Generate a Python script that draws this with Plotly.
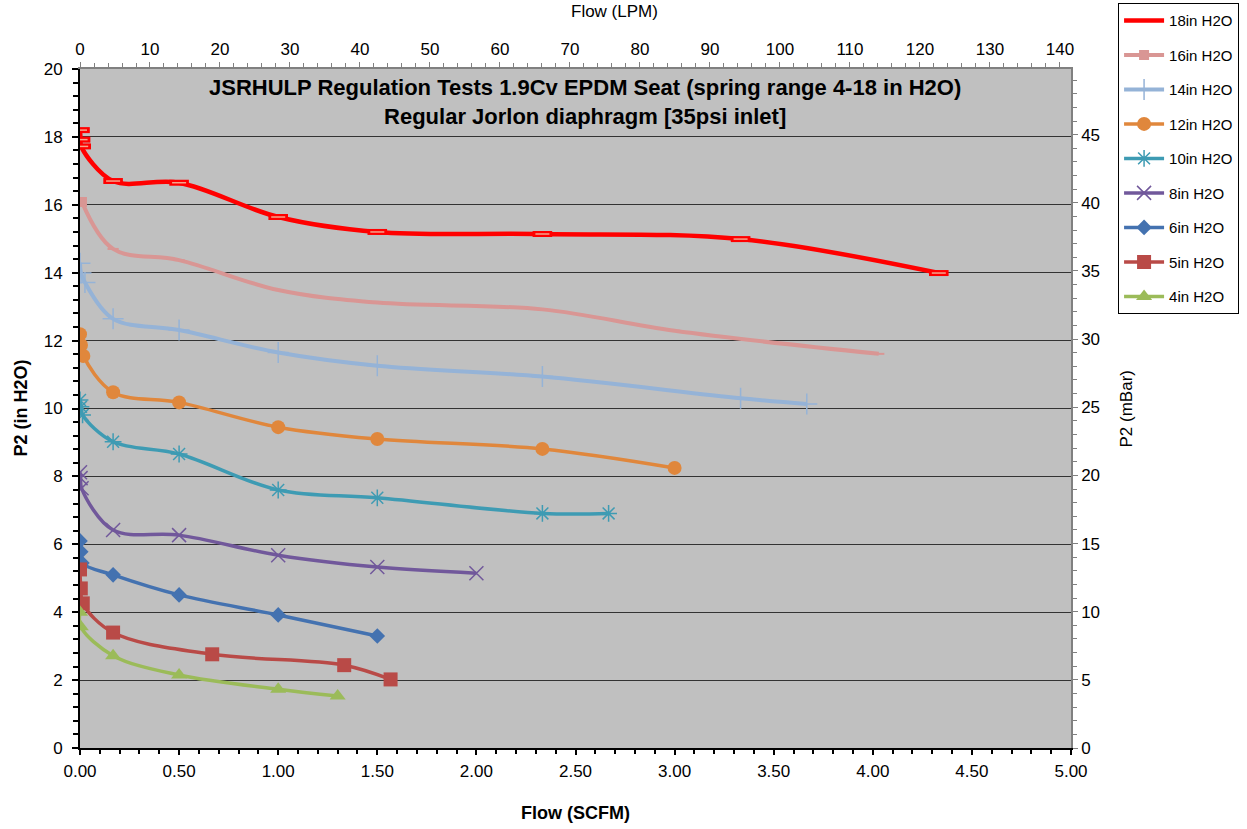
import plotly.graph_objects as go

# ---- data (x in SCFM, y in inches H2O) ----
x18 = [0.0, 0.003, 0.006, 0.167, 0.5, 1.0, 1.5, 2.333, 3.333, 4.333]
y18 = [18.2, 17.92, 17.72, 16.70, 16.65, 15.64, 15.20, 15.14, 14.99, 13.99]

x16 = [0.01, 0.167, 0.5, 1.0, 1.5, 2.333, 3.0, 4.03]
y16 = [16.08, 14.70, 14.37, 13.49, 13.12, 12.92, 12.29, 11.61]

x14 = [0.0, 0.005, 0.025, 0.167, 0.5, 1.0, 1.5, 2.333, 3.333, 3.667]
y14 = [14.28, 13.99, 13.71, 12.64, 12.31, 11.65, 11.26, 10.94, 10.30, 10.13]

x12 = [0.0, 0.005, 0.017, 0.167, 0.5, 1.0, 1.5, 2.333, 3.0]
y12 = [12.19, 11.87, 11.55, 10.48, 10.18, 9.45, 9.10, 8.81, 8.25]

x10 = [0.0, 0.005, 0.013, 0.167, 0.5, 1.0, 1.5, 2.333, 2.667]
y10 = [10.25, 10.05, 9.81, 9.02, 8.66, 7.60, 7.37, 6.91, 6.91]

x8 = [0.0, 0.003, 0.008, 0.167, 0.5, 1.0, 1.5, 2.0]
y8 = [8.12, 7.95, 7.65, 6.42, 6.27, 5.68, 5.33, 5.15]

x6 = [0.0, 0.004, 0.01, 0.167, 0.5, 1.0, 1.5]
y6 = [6.10, 5.78, 5.45, 5.10, 4.51, 3.92, 3.30]

x5 = [0.0, 0.004, 0.014, 0.167, 0.667, 1.333, 1.567]
y5 = [5.26, 4.70, 4.26, 3.40, 2.76, 2.44, 2.02]

x4 = [0.0, 0.004, 0.167, 0.5, 1.0, 1.3]
y4 = [4.0, 3.57, 2.72, 2.15, 1.73, 1.53]

SCFM_TO_LPM = 28.3168
INH2O_TO_MBAR = 2.4908
X_MAX = 5.0
Y_MAX = 20.0

series = [
    ("18in H2O", x18, y18, "#ff0000", 4.5, None, 0),
    ("16in H2O", x16, y16, "#d99694", 4, "pink", 8),
    ("14in H2O", x14, y14, "#95b3d7", 4, "cross-thin-open", 15),
    ("12in H2O", x12, y12, "#e0873c", 3.5, "circle", 14),
    ("10in H2O", x10, y10, "#3e9bb3", 3.5, "asterisk-open", 14),
    ("8in H2O", x8, y8, "#71589b", 3.5, "x-thin-open", 14),
    ("6in H2O", x6, y6, "#4472b0", 3.5, "diamond", 12),
    ("5in H2O", x5, y5, "#b94a47", 3.5, "square", 14),
    ("4in H2O", x4, y4, "#9bbb59", 3.5, "triangle-up", 14),
]

fig = go.Figure()
for i, (name, xs, ys, col, lw, sym, ms) in enumerate(series):
    g = "g%d" % i
    if sym is None:
        fig.add_trace(go.Scatter(
            x=xs, y=ys, name=name, mode="lines", legendgroup=g,
            line=dict(color=col, width=lw, shape="spline", smoothing=1.0),
        ))
        fig.add_trace(go.Scatter(
            x=xs, y=ys, mode="markers", showlegend=False, legendgroup=g,
            marker=dict(symbol="line-ew", size=14, line=dict(color=col, width=6)),
            hoverinfo="skip",
        ))
        fig.add_trace(go.Scatter(
            x=xs, y=ys, mode="markers", showlegend=False, legendgroup=g,
            marker=dict(symbol="line-ew", size=10, line=dict(color="#f5a58c", width=1.5)),
            hoverinfo="skip",
        ))
    elif sym == "pink":
        syms = ["square"] + ["line-ew-open"] * (len(xs) - 1)
        fig.add_trace(go.Scatter(
            x=xs, y=ys, name=name, mode="lines+markers", legendgroup=g,
            line=dict(color=col, width=lw, shape="spline", smoothing=1.0),
            marker=dict(symbol=syms, size=ms, color=col, line=dict(color=col, width=2)),
        ))
    else:
        open_sym = sym.endswith("open")
        mk = dict(symbol=sym, size=ms, color=col)
        if open_sym:
            mk["line"] = dict(color=col, width=1.5)
        else:
            mk["line"] = dict(width=0)
        fig.add_trace(go.Scatter(
            x=xs, y=ys, name=name, mode="lines+markers", legendgroup=g,
            line=dict(color=col, width=lw, shape="spline", smoothing=1.0),
            marker=mk,
        ))

# invisible anchor trace so the secondary (LPM / mBar) axes are drawn
fig.add_trace(go.Scatter(
    x=[0], y=[0], xaxis="x2", yaxis="y2", mode="markers",
    marker=dict(opacity=0), showlegend=False, hoverinfo="skip",
))

FONT = "Liberation Sans, Arial, sans-serif"

fig.update_layout(
    width=1247, height=829,
    margin=dict(l=80, r=176, t=69, b=81, autoexpand=False),
    paper_bgcolor="white",
    plot_bgcolor="#c0c0c0",
    font=dict(family=FONT, size=17, color="black"),
    showlegend=True,
    legend=dict(
        x=1.0475, y=1.097, xanchor="left", yanchor="top",
        bordercolor="black", borderwidth=1, bgcolor="white",
        font=dict(family=FONT, size=15, color="black"),
        traceorder="grouped", tracegroupgap=12,
        itemwidth=40,
    ),
    xaxis=dict(
        range=[0, X_MAX], dtick=0.5, tickformat=".2f",
        showgrid=False, zeroline=False,
        showline=True, linecolor="black", linewidth=1.5,
        ticks="outside", ticklen=5, tickcolor="black", tickwidth=1.5,
        minor=dict(dtick=0.1, ticks="outside", ticklen=4, tickcolor="black", showgrid=False),
        tickfont=dict(family=FONT, size=17),
        ticklabelstandoff=2,
    ),
    yaxis=dict(
        range=[0, Y_MAX], dtick=2,
        showgrid=True, gridcolor="#333333", gridwidth=1,
        zeroline=False,
        showline=True, linecolor="black", linewidth=2,
        ticks="outside", ticklen=6, tickcolor="black", tickwidth=1.5,
        minor=dict(dtick=0.4, ticks="outside", ticklen=5, tickcolor="black", showgrid=False),
        tickfont=dict(family=FONT, size=17),
        ticklabelstandoff=6,
    ),
    xaxis2=dict(
        overlaying="x", side="top", anchor="y2",
        range=[0, X_MAX * SCFM_TO_LPM], dtick=10,
        showgrid=False, zeroline=False,
        showline=True, linecolor="#808080", linewidth=1.5,
        ticks="outside", ticklen=5, tickcolor="#808080",
        minor=dict(dtick=2, ticks="outside", ticklen=4, tickcolor="#808080", showgrid=False),
        tickfont=dict(family=FONT, size=17),
    ),
    yaxis2=dict(
        overlaying="y", side="right", anchor="x2",
        range=[0, Y_MAX * INH2O_TO_MBAR], dtick=5,
        showgrid=False, zeroline=False,
        showline=True, linecolor="#808080", linewidth=1.5,
        ticks="outside", ticklen=5, tickcolor="#808080",
        minor=dict(dtick=1, ticks="outside", ticklen=4, tickcolor="#808080", showgrid=False),
        tickfont=dict(family=FONT, size=17),
    ),
)

annots = [
    dict(text="<b>JSRHULP Regulation Tests 1.9Cv EPDM Seat (spring range 4-18 in H2O)<br>Regular Jorlon diaphragm [35psi inlet]</b>",
         x=0.510, y=0.951, xref="paper", yref="paper", xanchor="center", yanchor="middle",
         showarrow=False,
         font=dict(family=FONT, size=22, color="black"),
         ),
    dict(text="<b>Flow (SCFM)</b>", x=0.5, y=-0.0957, xref="paper", yref="paper",
         xanchor="center", yanchor="middle", showarrow=False, font=dict(family=FONT, size=18)),
    dict(text="Flow (LPM)", x=0.539, y=1.084, xref="paper", yref="paper",
         xanchor="center", yanchor="middle", showarrow=False, font=dict(family=FONT, size=17)),
    dict(text="<b>P2 (in H2O)</b>", x=-0.0605, y=0.5, xref="paper", yref="paper", textangle=-90,
         xanchor="center", yanchor="middle", showarrow=False, font=dict(family=FONT, size=18)),
    dict(text="P2 (mBar)", x=1.0565, y=0.5, xref="paper", yref="paper", textangle=-90,
         xanchor="center", yanchor="middle", showarrow=False, font=dict(family=FONT, size=17)),
]
fig.update_layout(annotations=annots)

fig.write_html("out.html", config={"displayModeBar": False},
               post_script="document.body.style.margin='0';")
